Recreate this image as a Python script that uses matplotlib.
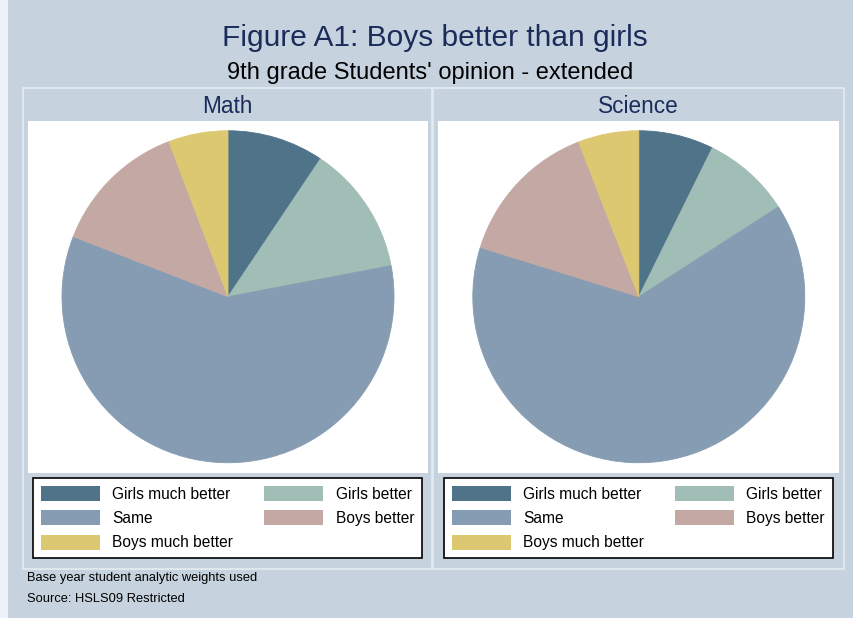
import matplotlib.pyplot as plt
from matplotlib.patches import Rectangle, Patch

plt.rcParams['font.family'] = ['Liberation Sans', 'DejaVu Sans']

categories = ['Girls much better', 'Girls better', 'Same', 'Boys better', 'Boys much better']
math_share = [9.4, 12.6, 58.9, 13.3, 5.8]
science_share = [7.3, 8.6, 63.9, 14.3, 5.9]
panel_titles = ['Math', 'Science']

colors = ['#4f7389', '#a0bdb6', '#869cb2', '#c4a8a3', '#ddc872']
bg = '#c6d3df'
navy = '#1b2c5a'

W, H = 854, 618


def box(x0, y0, x1, y1):
    # pixel box (top-left origin) -> figure rect
    return [x0 / W, 1 - y1 / H, (x1 - x0) / W, (y1 - y0) / H]


fig = plt.figure(figsize=(W / 100, H / 100), dpi=100, facecolor=bg)
fig.patches.append(Rectangle((0, 0), 8 / W, 1, transform=fig.transFigure,
                             facecolor='#eef2f6', edgecolor='none'))

fig.text(435 / W, 1 - 38.5 / H, 'Figure A1: Boys better than girls', ha='center', va='center',
         fontsize=21.5, color=navy)
fig.text(430 / W, 1 - 73 / H, "9th grade Students' opinion - extended", ha='center', va='center',
         fontsize=17, color='black')

panels = [
    dict(frame=(22.5, 87.5, 432.5, 568.5), plot=(27.7, 121, 428.3, 472.5), legend=(33.3, 478.3),
         title_x=227, data=math_share),
    dict(frame=(433.5, 87.5, 844, 568.5), plot=(438.3, 121, 839.3, 472.5), legend=(444, 478.3),
         title_x=638.5, data=science_share),
]

radius_px = 166
for p, title in zip(panels, panel_titles):
    fx0, fy0, fx1, fy1 = p['frame']
    fig.patches.append(Rectangle((fx0 / W, 1 - fy1 / H), (fx1 - fx0) / W, (fy1 - fy0) / H,
                                 transform=fig.transFigure, facecolor='none',
                                 edgecolor='#e3ebf2', lw=1.2))
    fig.text(p['title_x'] / W, 1 - 106.5 / H, title, ha='center', va='center', fontsize=16.3, color=navy)

    x0, y0, x1, y1 = p['plot']
    ax = fig.add_axes(box(x0, y0, x1, y1))
    ax.pie(p['data'], colors=colors, startangle=90, counterclock=False, radius=1,
           wedgeprops=dict(linewidth=0.6))
    for w, c in zip(ax.patches, colors):
        w.set_edgecolor(c)
    ax.set_xlim(-(x1 - x0) / 2 / radius_px, (x1 - x0) / 2 / radius_px)
    ax.set_ylim(-(y1 - y0) / 2 / radius_px, (y1 - y0) / 2 / radius_px)
    ax.set_aspect('auto')
    ax.set_frame_on(True)
    ax.set_facecolor('white')
    for s in ax.spines.values():
        s.set_visible(False)
    ax.set_xticks([])
    ax.set_yticks([])

    order = [0, 2, 4, 1, 3]
    handles = [Patch(facecolor=colors[i], edgecolor='none', label=categories[i]) for i in order]
    lx, ly = p['legend']
    leg = fig.legend(handles=handles, loc='upper left', bbox_to_anchor=(lx / W, 1 - ly / H),
                     ncol=2, fontsize=11.2, frameon=True, fancybox=False, framealpha=1,
                     edgecolor='black', borderaxespad=0, borderpad=0.5, handlelength=3.8,
                     handleheight=1.1, handletextpad=0.78, labelspacing=0.55, columnspacing=2.0)
    leg.get_frame().set_linewidth(1.2)

fig.text(27 / W, 1 - 578.5 / H, 'Base year student analytic weights used', ha='left', va='center',
         fontsize=9.3, color='black')
fig.text(27 / W, 1 - 599.5 / H, 'Source: HSLS09 Restricted', ha='left', va='center',
         fontsize=9.3, color='black')

fig.savefig('out.png', dpi=100, facecolor=bg)
